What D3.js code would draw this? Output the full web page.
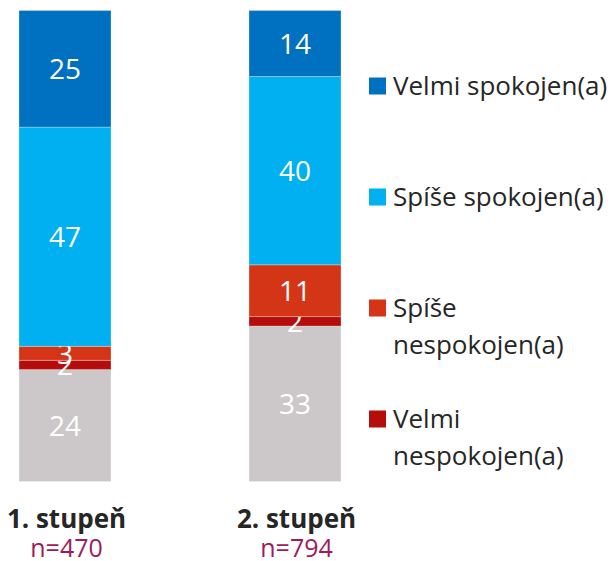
<!DOCTYPE html>
<html>
<head>
<meta charset="utf-8">
<script src="https://cdn.jsdelivr.net/npm/d3@7"></script>
<style>
    body { margin: 0; background: #fff; }
    text { font-family: "Open Sans", "Noto Sans", sans-serif; }
</style>
</head>
<body>
<div id="chart"></div>
<script>
/*
    100% STACKED BARS - spokojenost
*/

// categories (x axis) and their sample sizes
const groups = ["1. stupeň", "2. stupeň"]
const sampleSizes = ["n=470", "n=794"]

// series, bottom to top of the stack
const series = ["Bez odpovědi", "Velmi nespokojen(a)", "Spíše nespokojen(a)", "Spíše spokojen(a)", "Velmi spokojen(a)"]
const colors = ["#CCC8C9", "#B50D0C", "#D43516", "#00B0F0", "#0070C0"]

// values in %, one array per series, in the order of groups
const noAnswer = [24, 33]
const veryUnhappy = [2, 2]
const ratherUnhappy = [3, 11]
const ratherHappy = [47, 40]
const veryHappy = [25, 14]

// legend entries, top to bottom (lines of each label)
const legendItems = [
    { key: "Velmi spokojen(a)", lines: ["Velmi spokojen(a)"] },
    { key: "Spíše spokojen(a)", lines: ["Spíše spokojen(a)"] },
    { key: "Spíše nespokojen(a)", lines: ["Spíše", "nespokojen(a)"] },
    { key: "Velmi nespokojen(a)", lines: ["Velmi", "nespokojen(a)"] }
]

const drawChart = () => {
    var width = 616,
        height = 561;

    // build rows for d3.stack from the small arrays
    const columns = [noAnswer, veryUnhappy, ratherUnhappy, ratherHappy, veryHappy]
    const rows = groups.map((g, i) => {
        const row = { group: g }
        series.forEach((s, j) => row[s] = columns[j][i])
        return row
    })

    const stacked = d3.stack()
        .keys(series)
        .offset(d3.stackOffsetExpand)(rows)

    var svg = d3.select("#chart").append("svg")
        .attr("width", width)
        .attr("height", height)

    var xScale = d3.scaleBand()
        .domain(groups)
        .range([19, 341])
        .paddingInner(0.6)
        .paddingOuter(0)

    var yScale = d3.scaleLinear()
        .domain([0, 1])
        .range([481.5, 10.5])

    var color = d3.scaleOrdinal()
        .domain(series)
        .range(colors)

    // bars
    var layers = svg.append("g")
        .selectAll("g")
        .data(stacked)
        .enter().append("g")
        .attr("fill", d => color(d.key))

    layers.selectAll("rect")
        .data(d => d)
        .enter().append("rect")
        .attr("x", d => xScale(d.data.group))
        .attr("width", xScale.bandwidth())
        .attr("y", d => yScale(d[1]))
        .attr("height", d => yScale(d[0]) - yScale(d[1]))
        .attr("stroke", "rgba(255,255,255,0.35)")
        .attr("stroke-width", 0.8)

    // value labels
    layers.selectAll("text")
        .data(d => d.map(p => ({ p: p, key: d.key })))
        .enter().append("text")
        .attr("x", d => xScale(d.p.data.group) + xScale.bandwidth() / 2)
        .attr("y", d => (yScale(d.p[0]) + yScale(d.p[1])) / 2)
        .attr("dy", "0.37em")
        .attr("text-anchor", "middle")
        .style("font-size", "28px")
        .style("fill", "#fff")
        .text(d => d.p.data[d.key])

    // category labels under the bars
    var cats = svg.append("g")
        .selectAll("g")
        .data(groups)
        .enter().append("g")
        .attr("transform", d => `translate(${xScale(d) + xScale.bandwidth() / 2 + 1.5},0)`)

    cats.append("text")
        .attr("y", 528)
        .attr("text-anchor", "middle")
        .style("font-size", "26px")
        .style("font-weight", "bold")
        .style("fill", "#262626")
        .text(d => d)

    cats.append("text")
        .attr("y", 557)
        .attr("text-anchor", "middle")
        .style("font-size", "25px")
        .style("fill", "#A01A5B")
        .text((d, i) => sampleSizes[i])

    // legend
    var legend = svg.append("g")
        .selectAll("g")
        .data(legendItems)
        .enter().append("g")
        .attr("transform", (d, i) => `translate(369,${86 + i * 111})`)

    legend.append("rect")
        .attr("x", 0)
        .attr("y", -8.5)
        .attr("width", 17)
        .attr("height", 17)
        .attr("fill", d => color(d.key))

    legend.each(function (d) {
        d3.select(this).selectAll("text")
            .data(d.lines)
            .enter().append("text")
            .attr("x", 24)
            .attr("y", (l, i) => i * 37)
            .attr("dy", "0.36em")
            .style("font-size", "26px")
            .style("fill", "#262626")
            .text(l => l)
    })
}

drawChart()
</script>
</body>
</html>
